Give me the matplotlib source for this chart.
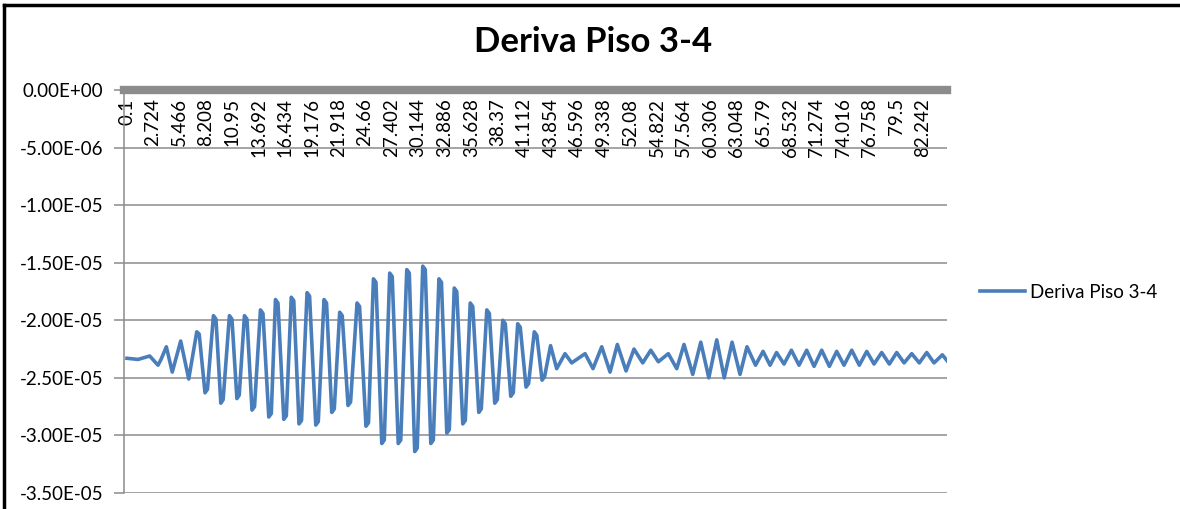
import matplotlib
matplotlib.use("Agg")
import matplotlib.pyplot as plt
from matplotlib.lines import Line2D
import numpy as np

plt.rcParams['font.family'] = ['Lato', 'DejaVu Sans']

# time (s) and drift values (x1e-6)
tiempo = [0.1, 1.24, 2.44, 3.30, 3.61, 4.16, 4.77, 5.64, 6.47,
          7.30, 7.55, 8.15, 8.40, 9.02, 9.28, 9.78, 10.02, 10.67, 10.93, 11.44, 11.68,
          12.22, 12.48, 13.00, 13.26, 13.87, 14.13, 14.73, 14.99, 15.42, 15.68,
          16.28, 16.54, 17.05, 17.31, 17.85, 18.11, 18.68, 18.94, 19.58, 19.84,
          20.43, 20.69, 21.23, 21.49, 22.05, 22.31, 22.91, 23.17, 23.84, 24.10,
          24.76, 25.02, 25.53, 25.79, 26.39, 26.65, 27.21, 27.47, 28.09, 28.35,
          28.97, 29.23, 29.79, 30.05, 30.62, 30.88, 31.45, 31.71, 32.29, 32.55,
          33.10, 33.36, 33.87, 34.13, 34.75, 35.01, 35.52, 35.78, 36.40, 36.66,
          37.23, 37.49, 38.05, 38.31, 38.88, 39.14, 39.70, 39.96, 40.42, 40.68,
          41.28, 41.54, 42.13, 42.39, 42.93, 43.19,
          43.81, 44.44, 45.30, 45.99, 47.37, 48.19, 49.09, 49.95, 50.70, 51.60,
          52.42, 53.32, 54.15, 54.93, 55.96, 56.83, 57.58, 58.48, 59.31, 60.14,
          60.96, 61.73, 62.54, 63.36, 64.08, 64.96, 65.74, 66.46, 67.13, 67.90,
          68.66, 69.45, 70.24, 71.00, 71.79, 72.58, 73.34, 74.09, 74.89, 75.67,
          76.44, 77.19, 77.98, 78.77, 79.53, 80.29, 81.08, 81.86, 82.63, 83.38,
          84.24, 84.72]
deriva = [-23.3, -23.4, -23.1, -23.9, -23.4, -22.3, -24.5, -21.8, -25.1,
          -21.0, -21.2, -26.3, -26.0, -19.6, -19.9, -27.2, -26.9, -19.6, -19.9, -26.8, -26.5,
          -19.6, -19.9, -27.8, -27.5, -19.1, -19.4, -28.4, -28.1, -18.2, -18.5,
          -28.6, -28.3, -18.0, -18.3, -29.0, -28.7, -17.6, -17.9, -29.1, -28.8,
          -18.2, -18.5, -28.0, -27.7, -19.3, -19.6, -27.4, -27.1, -18.5, -18.8,
          -29.2, -28.9, -16.4, -16.7, -30.7, -30.4, -15.9, -16.2, -30.7, -30.4,
          -15.6, -15.9, -31.4, -31.1, -15.3, -15.6, -30.7, -30.4, -16.4, -16.7,
          -29.8, -29.5, -17.2, -17.5, -29.0, -28.7, -18.5, -18.8, -28.0, -27.7,
          -19.1, -19.4, -27.2, -26.9, -20.0, -20.3, -26.6, -26.3, -20.3, -20.6,
          -25.8, -25.5, -21.0, -21.3, -25.2, -24.9,
          -22.2, -24.2, -22.9, -23.7, -22.9, -24.2, -22.3, -24.5, -22.1, -24.4,
          -22.5, -23.7, -22.6, -23.6, -22.9, -24.2, -22.1, -24.7, -21.9, -25.0,
          -21.7, -25.0, -21.9, -24.7, -22.3, -23.9, -22.7, -23.9, -22.8, -23.8,
          -22.6, -23.9, -22.6, -24.0, -22.6, -24.0, -22.7, -23.9, -22.6, -23.9,
          -22.7, -23.8, -22.8, -23.8, -22.8, -23.7, -22.9, -23.7, -22.8, -23.7,
          -23.0, -23.5]

etiquetas_x = ["0.1", "2.724", "5.466", "8.208", "10.95", "13.692", "16.434", "19.176",
               "21.918", "24.66", "27.402", "30.144", "32.886", "35.628", "38.37", "41.112",
               "43.854", "46.596", "49.338", "52.08", "54.822", "57.564", "60.306", "63.048",
               "65.79", "68.532", "71.274", "74.016", "76.758", "79.5", "82.242"]
ticks_y = [0, -5e-6, -1e-5, -1.5e-5, -2e-5, -2.5e-5, -3e-5, -3.5e-5]

azul = '#4A7EBB'
gris = '#8C8C8C'

fig = plt.figure(figsize=(11.8, 5.09), dpi=100)
ax = fig.add_axes([124/1180, 1 - 493/509, 823/1180, 403/509])

ax.plot(tiempo, np.array(deriva) * 1e-6, color=azul, lw=2.6, label='Deriva Piso 3-4',
        solid_joinstyle='round')

ax.set_xlim(-0.21, 84.72)
ax.set_ylim(-3.5e-5, 0)
ax.set_yticks(ticks_y)
ax.set_yticklabels([f"{v:.2E}" for v in ticks_y])
ax.yaxis.grid(True, color=gris, lw=1.1)
ax.tick_params(axis='y', length=7, width=1.1, color=gris, labelsize=13.5, pad=8)

# category labels hang below the top axis line
ax.set_xticks([float(s) for s in etiquetas_x])
ax.set_xticklabels(etiquetas_x)
ax.xaxis.tick_top()
ax.tick_params(axis='x', length=0, labelsize=13.5, labelrotation=90, pad=-6)
for lbl in ax.get_xticklabels():
    lbl.set_va('top')

for s in ['top', 'right', 'bottom']:
    ax.spines[s].set_visible(False)
ax.spines['left'].set_color(gris)
ax.spines['left'].set_linewidth(1.1)
ax.axhline(0, color=gris, lw=6, clip_on=False, zorder=3)

fig.text(593/1180, 1 - 42/509, 'Deriva Piso 3-4', ha='center', va='center',
         fontsize=25, fontweight='bold')

ax.legend(loc='center left', bbox_to_anchor=(980/1180, 1 - 292/509),
          bbox_transform=fig.transFigure, frameon=False, fontsize=13.5,
          handlelength=2.4, handletextpad=0.28, borderpad=0, borderaxespad=0)

# outer border of the screenshot
fig.add_artist(Line2D([4/1180, 1], [1 - 5/509, 1 - 5/509], color='black', lw=2.5,
                      transform=fig.transFigure))
fig.add_artist(Line2D([4/1180, 4/1180], [0, 1 - 5/509], color='black', lw=2.5,
                      transform=fig.transFigure))

fig.savefig('out.png', dpi=100)
